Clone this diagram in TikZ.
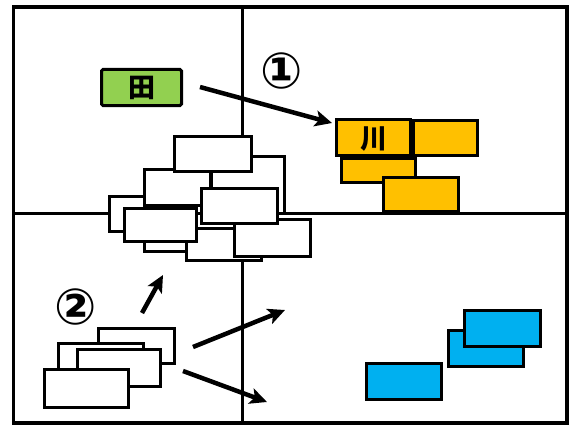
\documentclass[tikz,border=0pt]{standalone}
\usepackage{fontspec}
\newfontfamily\cjk{Noto Sans CJK SC}
\newfontfamily\symf{DejaVu Sans}
\usetikzlibrary{arrows.meta}
\definecolor{grn}{HTML}{92D050}
\definecolor{org}{HTML}{FFC000}
\definecolor{blu}{HTML}{00B0F0}
\tikzset{
  box/.style={draw=black,line width=3pt,inner sep=0pt,outer sep=0pt},
  frameline/.style={line width=3.5pt},
  divline/.style={line width=3pt},
  bigarrow/.style={line width=4.5pt,-{Stealth[length=17pt,width=16pt,inset=4pt]}},
  circnum/.style={inner sep=0pt,font=\symf\bfseries\fontsize{50}{50}\selectfont},
  cjklabel/.style={font=\cjk\bfseries\fontsize{27}{27}\selectfont}
}
\newcommand\mybox[7][]{\node[box,fill=#7,#1,minimum width={#4-#2-3},minimum height={#5-#3-3}] (#6) at ({(#2+#4)/2},{(#3+#5)/2}) {};}
\begin{document}
\begin{tikzpicture}[x=1pt,y=-1pt]
\useasboundingbox (0,0) rectangle (569,425);
\fill[white] (0,0) rectangle (569,425);
% frame and dividers
\coordinate (tl) at (13.5,7);
\coordinate (br) at (567,423);
\coordinate (vt) at (242,7);
\coordinate (vb) at (242,423);
\coordinate (hl) at (13.5,213);
\coordinate (hr) at (567,213);
\draw[divline] (vt) -- (vb);
\draw[divline] (hl) -- (hr);
\draw[frameline] (tl) rectangle (br);
% green box
\mybox[rounded corners=1.5pt]{100}{68}{183}{107}{gr}{grn}
\node[cjklabel] (grt) at (gr.center) {田};
% orange boxes
\mybox{412}{119}{479}{157}{ob}{org}
\mybox{340}{157}{417}{184}{oc}{org}
\mybox{382}{176}{460}{213}{od}{org}
\mybox{335}{118}{412}{157}{oa}{org}
\node[cjklabel] (oat) at ([yshift=-2pt]oa.center) {川};
% white cluster
\mybox{108}{195}{150}{233}{w4}{white}
\mybox{210}{155}{286}{215}{w2}{white}
\mybox{143}{168}{212}{207}{w3}{white}
\mybox{143}{228}{200}{253}{w7}{white}
\mybox{185}{227}{263}{262}{w8}{white}
\mybox{233}{218}{312}{258}{w9}{white}
\mybox{173}{135}{253}{173}{w1}{white}
\mybox{200}{187}{279}{225}{w6}{white}
\mybox{123}{207}{198}{243}{w5}{white}
% bottom-left cluster
\mybox{97}{327}{176}{365}{b1}{white}
\mybox{57}{342}{145}{380}{b2}{white}
\mybox{76}{348}{162}{388}{b3}{white}
\mybox{43}{368}{130}{409}{b4}{white}
% blue boxes
\mybox{447}{329}{525}{368}{bl2}{blu}
\mybox{463}{309}{542}{348}{bl3}{blu}
\mybox{365}{362}{443}{401}{bl1}{blu}
% circled numbers
\node[circnum] (n1) at (282,71) {①};
\node[circnum] (n2) at (76,307) {②};
% arrows
\coordinate (a1s) at (200,87);
\coordinate (a1e) at (332,123);
\coordinate (a2s) at (142,313);
\coordinate (a2e) at (163,275);
\coordinate (a3s) at (193,347);
\coordinate (a3e) at (285,310);
\coordinate (a4s) at (183,371);
\coordinate (a4e) at (267,402);
\draw[bigarrow] (a1s) -- (a1e);
\draw[bigarrow] (a2s) -- (a2e);
\draw[bigarrow] (a3s) -- (a3e);
\draw[bigarrow] (a4s) -- (a4e);
\end{tikzpicture}
\end{document}
